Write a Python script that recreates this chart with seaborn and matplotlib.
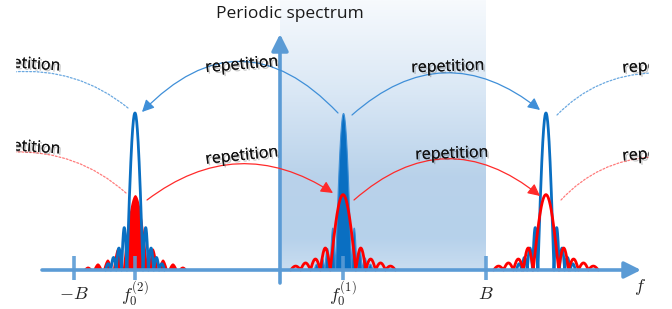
import numpy as np
import pandas as pd
import matplotlib
matplotlib.use("Agg")
import matplotlib.pyplot as plt
import matplotlib.patheffects as pe
from matplotlib.colors import LinearSegmentedColormap
from matplotlib.patches import Rectangle
import seaborn as sns

# =========================
# DATA (frequency in units of B, amplitude relative to the tall peak)
# =========================
B = 1.0
centres = [-0.704, 0.306, 1.291]          # f0^(2), f0^(1), next repetition
tick_pos = [-B, centres[0], centres[1], B]
tick_labels = [r"$-B$", r"$f_0^{(2)}$", r"$f_0^{(1)}$", r"$B$"]

blue_lobes = [1.0, 0.27, 0.14, 0.08, 0.04]     # main lobe, then side lobes
blue_main_half, blue_side_w = 0.039, 0.026
red_lobes = [0.48, 0.14, 0.07, 0.045, 0.025]
red_main_half, red_side_w = 0.062, 0.048

BLUE = "#0a6fc2"
RED = "#ff0000"
AXIS = "#5b9bd5"
ARC_BLUE = "#3f8fd8"
ARC_RED = "#ff2a2a"

# pixel -> data helper for the layout of labels/arrows
X0, SX, Y0, SY = 280, 206, 270, 157
def px(x, y):
    return ((x - X0) / SX, (Y0 - y) / SY)


def spectrum(c, heights, main_half, side_w, n=40):
    # glue arches together: main lobe then the side lobes on each side
    edges_r = [main_half + k * side_w for k in range(len(heights))]
    xs, ys = [], []
    for k in range(len(heights) - 1, 0, -1):
        a, b = -edges_r[k], -edges_r[k - 1]
        t = np.linspace(0, 1, n)
        xs.append(a + (b - a) * t)
        ys.append(heights[k] * np.sin(np.pi * t))
    t = np.linspace(0, 1, 2 * n)
    xs.append(-main_half + 2 * main_half * t)
    ys.append(heights[0] * np.sin(np.pi * t))
    for k in range(1, len(heights)):
        a, b = edges_r[k - 1], edges_r[k]
        t = np.linspace(0, 1, n)
        xs.append(a + (b - a) * t)
        ys.append(heights[k] * np.sin(np.pi * t))
    return pd.DataFrame({"f": c + np.concatenate(xs), "amp": np.concatenate(ys)})


sns.set_theme(style="white")
plt.rcParams["font.family"] = ["Open Sans", "DejaVu Sans"]
plt.rcParams["mathtext.fontset"] = "cm"

fig = plt.figure(figsize=(6.72, 3.09), dpi=100)
ax = fig.add_axes([0, 0, 1, 1])
ax.set_xlim(-X0 / SX, (672 - X0) / SX)
ax.set_ylim(-(309 - Y0) / SY, Y0 / SY)
ax.axis("off")

# =========================
# SHADED BAND [0, B]
# =========================
cmap = LinearSegmentedColormap.from_list(
    "band", [(0.0, "#c9ddf0"), (0.12, "#b6d1eb"), (0.35, "#b9d2ea"),
             (0.65, "#d9e7f5"), (1.0, "#f7fafd")])
grad = np.linspace(0, 1, 256).reshape(-1, 1)
ax.imshow(grad, extent=(0, B, 0, Y0 / SY), origin="lower", aspect="auto",
          cmap=cmap, zorder=0)

# =========================
# SPECTRA
# =========================
blue = [spectrum(c, blue_lobes, blue_main_half, blue_side_w) for c in centres]
red = [spectrum(c, red_lobes, red_main_half, red_side_w) for c in centres]

# f0^(2): red filled, blue outline
ax.fill_between(red[0]["f"], 0, red[0]["amp"], color=RED, lw=0, zorder=3)
sns.lineplot(data=blue[0], x="f", y="amp", sort=False, estimator=None,
             color=BLUE, lw=2.0, ax=ax, zorder=4)
# f0^(1): blue filled, red outline
ax.fill_between(blue[1]["f"], 0, blue[1]["amp"], color=BLUE, lw=0.8,
                edgecolor="#3d8fd6", zorder=3)
sns.lineplot(data=red[1], x="f", y="amp", sort=False, estimator=None,
             color=RED, lw=2.0, ax=ax, zorder=5)
# repetition: both outlines
sns.lineplot(data=blue[2], x="f", y="amp", sort=False, estimator=None,
             color=BLUE, lw=2.0, ax=ax, zorder=4)
sns.lineplot(data=red[2], x="f", y="amp", sort=False, estimator=None,
             color=RED, lw=2.0, ax=ax, zorder=5)

# =========================
# AXES
# =========================
ax.annotate("", xy=px(641, 270), xytext=px(42, 270),
            arrowprops=dict(arrowstyle="-|>,head_length=0.5,head_width=0.25",
                            color=AXIS, lw=2.6, shrinkA=0, shrinkB=0,
                            mutation_scale=20), zorder=6)
ax.annotate("", xy=(0, px(0, 34)[1]), xytext=(0, px(0, 283)[1]),
            arrowprops=dict(arrowstyle="-|>,head_length=0.5,head_width=0.25",
                            color=AXIS, lw=2.6, shrinkA=0, shrinkB=0,
                            mutation_scale=20), zorder=6)
for p, lab in zip(tick_pos, tick_labels):
    ax.plot([p, p], [px(0, 280)[1], px(0, 256)[1]], color=AXIS, lw=2.6,
            alpha=0.9, zorder=6, solid_capstyle="butt")
    ax.text(p, px(0, 294)[1], lab, ha="center", va="center", fontsize=13,
            color="#222222", zorder=7)
ax.text(*px(640, 287), r"$f$", ha="center", va="center", fontsize=13,
        color="#222222")
ax.text(*px(290, 14), "Periodic spectrum", ha="center", va="center",
        fontsize=12.5, color="#1a1a1a")

# =========================
# REPETITION ARROWS
# =========================
def arc(start, end, rad, color, lw=0.9, head=True, ls="-"):
    style = "-|>,head_length=0.6,head_width=0.3" if head else "-"
    ax.annotate("", xy=px(*end), xytext=px(*start),
                arrowprops=dict(arrowstyle=style, color=color, lw=lw, ls=ls,
                                shrinkA=0, shrinkB=0, mutation_scale=12,
                                connectionstyle=f"arc3,rad={rad}"), zorder=6)

arc((338, 113), (142, 112), 0.52, ARC_BLUE)
arc((352, 115), (540, 110), -0.42, ARC_BLUE)
arc((147, 200), (333, 193), -0.35, ARC_RED)
arc((354, 200), (540, 196), -0.42, ARC_RED)
dots = (0, (1.5, 1.5))
arc((128, 108), (12, 72), 0.2, "#6aa8e0", head=False, ls=dots)
arc((126, 193), (12, 152), 0.2, "#ff7b7b", head=False, ls=dots)
arc((557, 115), (652, 73), -0.2, "#6aa8e0", head=False, ls=dots)
arc((561, 200), (652, 157), -0.2, "#ff7b7b", head=False, ls=dots)

shadow = [pe.withSimplePatchShadow(offset=(1.2, -1.2), shadow_rgbFace="k",
                                   alpha=0.25), pe.Normal()]
labels = [((242, 65), 5), ((448, 67), 2), ((242, 156), 6), ((452, 154), 2),
          ((24, 64), -4), ((24, 147), -4), ((659, 66), 4), ((659, 154), 4)]
for (x, y), rot in labels:
    ax.text(*px(x, y), "repetition", ha="center", va="center", fontsize=11.5,
            rotation=rot, color="#111111", path_effects=shadow, zorder=7)

# clipped margins, as in the source figure
for x0, x1 in [(0, 15), (649, 672)]:
    lo, _ = px(x0, 0)
    hi, _ = px(x1, 0)
    ax.add_patch(Rectangle((lo, px(0, 250)[1]), hi - lo, 3, color="white",
                           zorder=10))

fig.savefig("out.png", dpi=100)
